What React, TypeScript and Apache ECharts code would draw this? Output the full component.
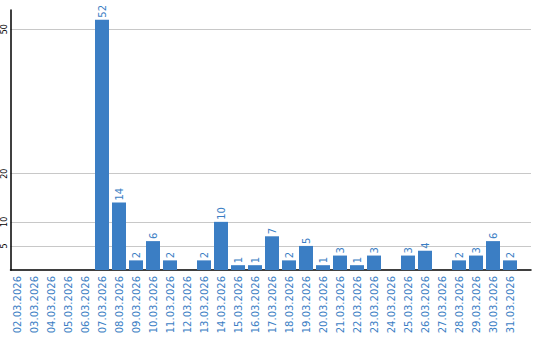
import React, { useEffect, useRef } from "react";
import * as echarts from "echarts";

const categories = [
  "02.03.2026", "03.03.2026", "04.03.2026", "05.03.2026", "06.03.2026",
  "07.03.2026", "08.03.2026", "09.03.2026", "10.03.2026", "11.03.2026",
  "12.03.2026", "13.03.2026", "14.03.2026", "15.03.2026", "16.03.2026",
  "17.03.2026", "18.03.2026", "19.03.2026", "20.03.2026", "21.03.2026",
  "22.03.2026", "23.03.2026", "24.03.2026", "25.03.2026", "26.03.2026",
  "27.03.2026", "28.03.2026", "29.03.2026", "30.03.2026", "31.03.2026",
];
const values = [
  0, 0, 0, 0, 0,
  52, 14, 2, 6, 2,
  0, 2, 10, 1, 1,
  7, 2, 5, 1, 3,
  1, 3, 0, 3, 4,
  0, 2, 3, 6, 2,
];
const yTicks = [5, 10, 20, 50];
const yMax = 54;

const BLUE = "#3b7ec4";
const FONT = "DejaVu Sans";

export default function App() {
  const ref = useRef<HTMLDivElement>(null);
  useEffect(() => {
    if (!ref.current) return;
    const chart = echarts.init(ref.current, null, { renderer: "svg" });
    chart.setOption({
      animation: false,
      backgroundColor: "#ffffff",
      grid: [
        { left: 10.5, top: 10, width: 520.5, height: 260, containLabel: false },
        { left: 8.5, top: 10, width: 510, height: 260, containLabel: false },
      ],
      xAxis: [
        {
          type: "value",
          gridIndex: 0,
          min: 0,
          max: 1,
          axisLine: { show: true, onZero: false, lineStyle: { color: "#000", width: 1.5 } },
          axisTick: { show: false },
          axisLabel: { show: false },
          splitLine: { show: false },
        },
        {
          type: "category",
          gridIndex: 1,
          data: categories,
          axisLine: { show: false },
          axisTick: { show: false },
          axisLabel: {
            rotate: 90,
            interval: 0,
            margin: 6,
            color: BLUE,
            fontSize: 10,
            fontFamily: FONT,
          },
          splitLine: { show: false },
        },
      ],
      yAxis: [
        {
          type: "value",
          gridIndex: 0,
          min: 0,
          max: yMax,
          axisLine: { show: true, lineStyle: { color: "#000", width: 1.5 } },
          axisTick: { show: false, customValues: yTicks },
          axisLabel: {
            customValues: yTicks,
            rotate: 90,
            margin: 2,
            color: "#000",
            fontSize: 8,
            fontFamily: FONT,
          },
          splitLine: { show: true, lineStyle: { color: "#c8c8c8", width: 1 } },
        },
        {
          type: "value",
          gridIndex: 1,
          min: 0,
          max: yMax,
          show: false,
          splitLine: { show: false },
        },
      ],
      series: [
        {
          type: "bar",
          xAxisIndex: 1,
          yAxisIndex: 1,
          data: values,
          barWidth: 14,
          itemStyle: { color: BLUE },
          label: {
            show: true,
            position: "top",
            rotate: 90,
            align: "left",
            verticalAlign: "middle",
            distance: 2,
            color: BLUE,
            fontSize: 10,
            fontFamily: FONT,
            formatter: (p: any) => (p.value ? String(p.value) : ""),
          },
        },
      ],
    });
    return () => chart.dispose();
  }, []);
  return (
    <div
      ref={ref}
      style={{ position: "fixed", left: 0, top: 0, width: 540, height: 340, background: "#fff" }}
    />
  );
}
